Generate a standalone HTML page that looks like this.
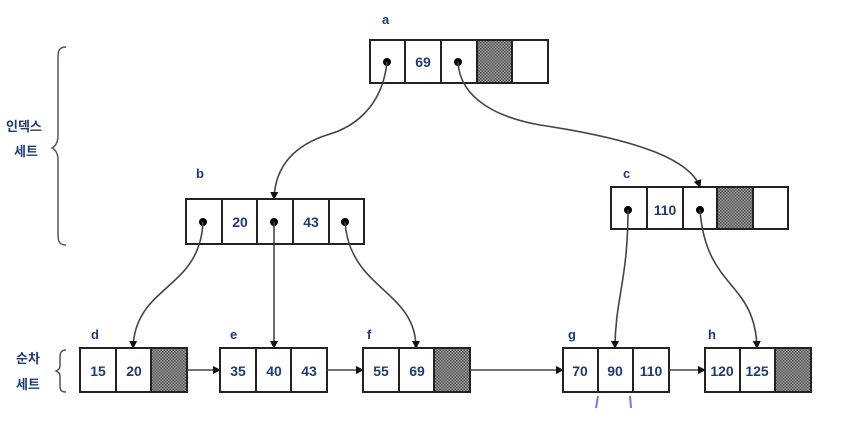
<!DOCTYPE html>
<html><head><meta charset="utf-8"><style>
html,body{margin:0;padding:0;background:#fff;}
svg{display:block;}
text{font-family:"Liberation Sans","Noto Sans CJK KR",sans-serif;font-weight:bold;fill:#1f3a7a;}
</style></head><body>
<svg width="845" height="421" viewBox="0 0 845 421" xmlns="http://www.w3.org/2000/svg">
<defs>
<pattern id="hatch" width="3" height="3" patternUnits="userSpaceOnUse">
<rect width="3" height="3" fill="#9a9a9a"/><rect width="1.5" height="1.5" fill="#555"/><rect x="1.5" y="1.5" width="1.5" height="1.5" fill="#555"/>
</pattern>
<marker id="ar" markerWidth="8" markerHeight="8" refX="7" refY="4" orient="auto" markerUnits="userSpaceOnUse">
<path d="M0,0 L8,4 L0,8 z" fill="#111"/></marker>
</defs>
<g stroke="#222" stroke-width="2" fill="#fff">
<rect x="370" y="40" width="178" height="43"/>
<rect x="477" y="40" width="35" height="43" fill="url(#hatch)"/>
<line x1="405" y1="40" x2="405" y2="83"/><line x1="441" y1="40" x2="441" y2="83"/><line x1="477" y1="40" x2="477" y2="83"/><line x1="512" y1="40" x2="512" y2="83"/>
<rect x="186" y="199" width="178" height="45"/>
<line x1="222" y1="199" x2="222" y2="244"/><line x1="257" y1="199" x2="257" y2="244"/><line x1="293" y1="199" x2="293" y2="244"/><line x1="329" y1="199" x2="329" y2="244"/>
<rect x="611" y="187" width="177" height="42"/>
<rect x="717" y="187" width="36" height="42" fill="url(#hatch)"/>
<line x1="647" y1="187" x2="647" y2="229"/><line x1="683" y1="187" x2="683" y2="229"/><line x1="717" y1="187" x2="717" y2="229"/><line x1="753" y1="187" x2="753" y2="229"/>
<rect x="80" y="348" width="107" height="44"/>
<rect x="151" y="348" width="36" height="44" fill="url(#hatch)"/>
<line x1="116" y1="348" x2="116" y2="392"/>
<rect x="220" y="348" width="107" height="44"/>
<line x1="256" y1="348" x2="256" y2="392"/><line x1="291" y1="348" x2="291" y2="392"/>
<rect x="363" y="348" width="107" height="44"/>
<rect x="434" y="348" width="36" height="44" fill="url(#hatch)"/>
<line x1="399" y1="348" x2="399" y2="392"/>
<rect x="563" y="348" width="106" height="44"/>
<line x1="598" y1="348" x2="598" y2="392"/><line x1="633" y1="348" x2="633" y2="392"/>
<rect x="705" y="348" width="106" height="44"/>
<rect x="775" y="348" width="36" height="44" fill="url(#hatch)"/>
<line x1="740" y1="348" x2="740" y2="392"/>
</g>
<g fill="#000">
<circle cx="387" cy="62" r="4"/><circle cx="458" cy="62" r="4"/>
<circle cx="203" cy="222" r="4"/><circle cx="274" cy="222" r="4"/><circle cx="345" cy="222" r="4"/>
<circle cx="628" cy="210" r="4"/><circle cx="700" cy="210" r="4"/>
</g>
<g stroke="#444" stroke-width="1.6" fill="none" marker-end="url(#ar)">
<path d="M387,62 C382,110 350,128 330,134 C290,146 275,170 274,199"/>
<path d="M458,62 C460,100 500,118 540,125 C640,140 690,160 700,187"/>
<path d="M203,222 C200,290 135,285 133,348"/>
<path d="M274,222 L274,348"/>
<path d="M345,222 C350,290 416,290 416,348"/>
<path d="M628,210 C628,280 615,300 615,348"/>
<path d="M700,210 C706,290 755,280 757,348"/>
<path d="M187,370 L220,370"/>
<path d="M327,370 L363,370"/>
<path d="M470,370 L563,370"/>
<path d="M669,370 L705,370"/>
</g>
<g stroke="#555" stroke-width="1.5" fill="none">
<path d="M66,47 C58,47 58,52 58,60 L58,135 C58,142 56,146 52,148 C56,150 58,154 58,160 L58,232 C58,240 58,245 66,245"/>
<path d="M66,350 C61,350 60,353 60,358 L60,366 C60,369 58,370 56,371 C58,372 60,373 60,376 L60,385 C60,390 61,392 66,392"/>
</g>
<g stroke="#9966dd" stroke-width="2"><line x1="598" y1="396" x2="596" y2="408"/><line x1="630" y1="396" x2="631" y2="408"/></g>
<g font-size="14" text-anchor="middle">
<text x="423" y="67">69</text>
<text x="240" y="227">20</text><text x="311" y="227">43</text>
<text x="665" y="215">110</text>
<text x="98" y="376">15</text><text x="134" y="376">20</text>
<text x="238" y="376">35</text><text x="274" y="376">40</text><text x="309" y="376">43</text>
<text x="381" y="376">55</text><text x="417" y="376">69</text>
<text x="580" y="376">70</text><text x="615" y="376">90</text><text x="651" y="376">110</text>
<text x="722" y="376">120</text><text x="757" y="376">125</text>
</g>
<g font-size="13">
<text x="382" y="24">a</text><text x="196" y="178">b</text><text x="623" y="178">c</text>
<text x="91" y="339">d</text><text x="230" y="339">e</text><text x="367" y="339">f</text><text x="568" y="339">g</text><text x="708" y="339">h</text>
</g>
<g font-size="13">
<text x="6" y="131">인덱스</text><text x="14" y="156">세트</text>
<text x="16" y="363">순차</text><text x="16" y="389">세트</text>
</g>
</svg>
</body></html>
